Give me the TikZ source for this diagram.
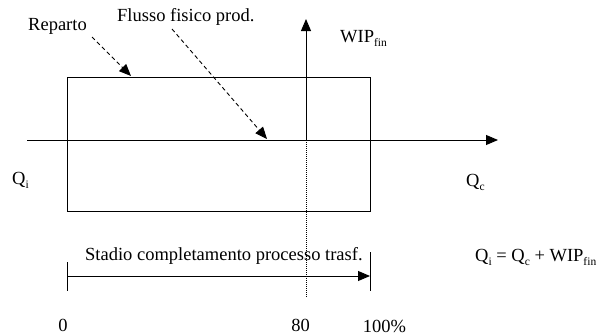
\documentclass[tikz,border=0pt]{standalone}
\usepackage{fontspec}
\setmainfont{Liberation Serif}
\usetikzlibrary{arrows.meta}
\newcommand{\subs}[1]{\raisebox{-4.5pt}{\fontsize{11.5}{12}\selectfont #1}}
\tikzset{
  lbl/.style={inner sep=0pt, font=\fontsize{18.5}{22}\selectfont},
  ln/.style={line width=0.9pt, black},
  tip/.style={-{Triangle[length=12pt,width=10pt]}},
  dsh/.style={ln, dash pattern=on 4pt off 3pt},
  dots/.style={line width=0.8pt, dash pattern=on 1pt off 1pt}
}
\begin{document}
\begin{tikzpicture}[x=1pt,y=-1pt]
\useasboundingbox (0,0) rectangle (598,335);
% rectangle (reparto)
\coordinate (rtl) at (67,77);
\coordinate (rbr) at (370,211);
\draw[ln] (rtl) rectangle (rbr);
% axes
\coordinate (hx0) at (27,140);
\coordinate (hx1) at (498,140);
\draw[ln,tip] (hx0) -- (hx1);
\coordinate (vy0) at (306,140);
\coordinate (vy1) at (306,19);
\draw[ln,tip] (vy0) -- (vy1);
% dotted line
\coordinate (dt) at (306,298);
\draw[dots] (vy0) -- (dt);
% labels
\node[lbl,anchor=base west] (rep) at (28,30) {Reparto};
\node[lbl,anchor=base west] (flu) at (117,21.5) {Flusso fisico prod.};
\node[lbl,anchor=base west] (wip) at (340,42) {WIP\subs{fin}};
\node[lbl,anchor=base west] (qi) at (12,184) {Q\subs{i}};
\node[lbl,anchor=base west] (qc) at (466,186) {Q\subs{c}};
\node[lbl,anchor=base west] (sta) at (85,260) {Stadio completamento processo trasf.};
\node[lbl,anchor=base west] (frm) at (475,261) {Q\subs{i} = Q\subs{c} + WIP\subs{fin}};
\node[lbl,anchor=base] (z0) at (63,331.5) {0};
\node[lbl,anchor=base] (z80) at (300.5,331) {80};
\node[lbl,anchor=base] (z100) at (384.5,332) {100\%};
% dashed arrows
\coordinate (ra0) at (92,37);
\coordinate (ra1) at (131,76);
\draw[dsh,tip] (ra0) -- (ra1);
\coordinate (fa0) at (172,29);
\coordinate (fa1) at (267,139);
\draw[dsh,tip] (fa0) -- (fa1);
% completion bar
\coordinate (bl0) at (67,262);
\coordinate (bl1) at (67,291);
\draw[ln] (bl0) -- (bl1);
\coordinate (br0) at (370,252);
\coordinate (br1) at (370,291);
\draw[ln] (br0) -- (br1);
\coordinate (ba0) at (67,276);
\coordinate (ba1) at (370,276);
\draw[ln,tip] (ba0) -- (ba1);
\end{tikzpicture}
\end{document}
